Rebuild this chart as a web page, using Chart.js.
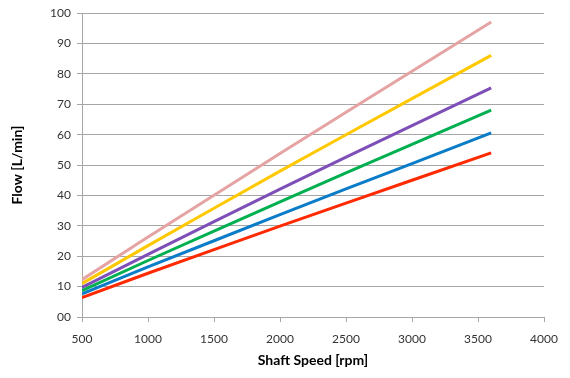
<!DOCTYPE html>
<html>
<head>
<meta charset="utf-8">
<script src="https://cdn.jsdelivr.net/npm/chart.js@4"></script>
<style>
  html, body { margin: 0; padding: 0; background: #fff; }
  #wrap { width: 570px; height: 378px; }
</style>
</head>
<body>
<div id="wrap"><canvas id="myChart"></canvas></div>
<script>
// shaft speed points (rpm)
let speeds = [500, 1000, 1500, 2000, 2500, 3000, 3600]

// flow for each curve (L/min)
let flowPink   = [12.3, 26.3, 40.1, 53.8, 67.4, 80.9, 97.1]
let flowYellow = [11.0, 23.5, 35.8, 48.0, 60.0, 71.9, 86.1]
let flowPurple = [9.7, 20.6, 31.4, 42.1, 52.6, 63.0, 75.4]
let flowGreen  = [8.7, 18.6, 28.3, 37.9, 47.4, 56.8, 68.1]
let flowBlue   = [7.6, 16.5, 25.1, 33.7, 42.2, 50.5, 60.6]
let flowRed    = [6.4, 14.4, 22.2, 29.9, 37.5, 45.0, 54.0]

let xTicks = [500, 1000, 1500, 2000, 2500, 3000, 3500, 4000]

function pts(ys) {
    let out = []
    for (let i = 0; i < speeds.length; i++) {
        out.push({ x: speeds[i], y: ys[i] })
    }
    return out
}

function line(label, ys, color) {
    return {
        label: label,
        data: pts(ys),
        borderColor: color,
        backgroundColor: color,
        borderWidth: 3,
        pointRadius: 0,
        showLine: true,
        tension: 0
    }
}

let font = { family: 'Lato, "Open Sans", sans-serif', size: 12 }
let titleFont = { family: 'Lato, "Open Sans", sans-serif', size: 14, weight: 'bold' }

var ctx = document.getElementById("myChart");

new Chart(ctx, {
    type: 'scatter',
    data: {
        datasets: [
            line('Red', flowRed, '#FF2A00'),
            line('Blue', flowBlue, '#0A7CC8'),
            line('Green', flowGreen, '#00B050'),
            line('Purple', flowPurple, '#7F4FB8'),
            line('Yellow', flowYellow, '#FFC800'),
            line('Pink', flowPink, '#E5A3A3')
        ]
    },
    options: {
        responsive: true,
        maintainAspectRatio: false,
        animation: false,
        layout: { padding: { top: 7, right: 26, left: 0, bottom: 0 } },
        plugins: {
            legend: { display: false },
            tooltip: { enabled: false }
        },
        scales: {
            x: {
                type: 'linear',
                min: 500,
                max: 4000,
                afterBuildTicks: function (scale) {
                    scale.ticks = xTicks.map(v => ({ value: v }))
                },
                afterFit: function (scale) { scale.height = 61 },
                grid: {
                    drawOnChartArea: false,
                    drawTicks: true,
                    tickLength: 5,
                    color: '#A6A6A6'
                },
                border: { color: '#A6A6A6', width: 1 },
                ticks: {
                    font: font,
                    color: '#333',
                    padding: 10,
                    maxRotation: 0,
                    callback: function (v) { return String(v) }
                },
                title: {
                    display: true,
                    text: 'Shaft Speed [rpm]',
                    font: titleFont,
                    color: '#000',
                    padding: { top: 0, bottom: 9 }
                }
            },
            y: {
                min: 0,
                max: 100,
                afterFit: function (scale) { scale.width = 82 },
                grid: {
                    color: '#A6A6A6',
                    tickLength: 5
                },
                border: { color: '#A6A6A6', width: 1 },
                ticks: {
                    stepSize: 10,
                    font: font,
                    color: '#333',
                    padding: 6,
                    callback: function (v) { return v === 0 ? '00' : String(v) }
                },
                title: {
                    display: true,
                    text: 'Flow [L/min]',
                    font: titleFont,
                    color: '#000',
                    padding: { top: 9, bottom: 0 }
                }
            }
        }
    }
});
</script>
</body>
</html>
